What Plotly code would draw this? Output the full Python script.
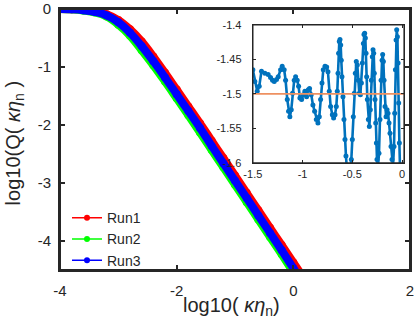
import plotly.graph_objects as go

# ---------------- data ----------------
log_k = [-4.0, -3.8, -3.6, -3.4, -3.2, -3.0, -2.8, -2.6, -2.4, -2.2, -2.0,
         -1.8, -1.6, -1.4, -1.2, -1.0, -0.8, -0.6, -0.4, -0.2, 0.0, 0.2]
run1 = [0, -0.004, -0.015, -0.04, -0.09, -0.19, -0.35, -0.56, -0.82, -1.10, -1.39,
        -1.68, -1.97, -2.27, -2.57, -2.87, -3.17, -3.47, -3.77, -4.07, -4.37, -4.67]
run2 = [0, -0.006, -0.025, -0.06, -0.13, -0.27, -0.46, -0.71, -0.97, -1.25, -1.54,
        -1.83, -2.13, -2.43, -2.73, -3.03, -3.33, -3.63, -3.93, -4.23, -4.54, -4.84]
run3 = [0, -0.005, -0.02, -0.05, -0.11, -0.23, -0.41, -0.64, -0.90, -1.18, -1.47,
        -1.76, -2.05, -2.36, -2.66, -2.96, -3.26, -3.56, -3.86, -4.16, -4.47, -4.77]
run_names = ["Run1", "Run2", "Run3"]

# inset: local slope
slope_x = [-1.500, -1.480, -1.456, -1.436, -1.413, -1.379, -1.346, -1.322, -1.302, -1.285,
           -1.262, -1.245, -1.221, -1.205, -1.185, -1.171, -1.154, -1.141, -1.128, -1.114,
           -1.101, -1.084, -1.070, -1.054, -1.040, -1.027, -1.010, -0.993, -0.977, -0.960,
           -0.943, -0.930, -0.913, -0.896, -0.879, -0.862, -0.846, -0.832, -0.819, -0.805,
           -0.792, -0.775, -0.758, -0.745, -0.732, -0.718, -0.701, -0.688, -0.674, -0.661,
           -0.651, -0.644, -0.638, -0.631, -0.624, -0.617, -0.611, -0.604, -0.594, -0.584,
           -0.574, -0.564, -0.554, -0.537, -0.520, -0.510, -0.500, -0.490, -0.480, -0.470,
           -0.460, -0.450, -0.440, -0.430, -0.419, -0.409, -0.399, -0.389, -0.383, -0.376,
           -0.369, -0.362, -0.356, -0.349, -0.339, -0.329, -0.319, -0.309, -0.299, -0.292,
           -0.285, -0.279, -0.272, -0.265, -0.258, -0.252, -0.242, -0.232, -0.222, -0.211,
           -0.201, -0.195, -0.188, -0.181, -0.171, -0.161, -0.151, -0.141, -0.131, -0.121,
           -0.111, -0.101, -0.091, -0.081, -0.074, -0.067, -0.060, -0.054, -0.047, -0.040,
           -0.034, -0.027, -0.020]
slope_y = [-1.465, -1.482, -1.496, -1.489, -1.467, -1.470, -1.472, -1.476, -1.480, -1.482,
           -1.479, -1.475, -1.465, -1.460, -1.465, -1.480, -1.508, -1.525, -1.533, -1.523,
           -1.499, -1.480, -1.475, -1.480, -1.489, -1.506, -1.508, -1.501, -1.496, -1.504,
           -1.494, -1.492, -1.501, -1.516, -1.525, -1.537, -1.542, -1.533, -1.508, -1.484,
           -1.465, -1.460, -1.461, -1.468, -1.496, -1.518, -1.530, -1.535, -1.530, -1.518,
           -1.496, -1.470, -1.441, -1.424, -1.421, -1.429, -1.451, -1.475, -1.504, -1.537,
           -1.566, -1.590, -1.610, -1.619, -1.610, -1.595, -1.566, -1.533, -1.499, -1.470,
           -1.453, -1.458, -1.480, -1.499, -1.501, -1.484, -1.455, -1.427, -1.414, -1.412,
           -1.419, -1.441, -1.475, -1.508, -1.537, -1.547, -1.523, -1.480, -1.446, -1.436,
           -1.441, -1.470, -1.508, -1.542, -1.571, -1.595, -1.605, -1.586, -1.537, -1.480,
           -1.451, -1.443, -1.453, -1.480, -1.518, -1.533, -1.523, -1.528, -1.542, -1.557,
           -1.576, -1.595, -1.605, -1.576, -1.528, -1.465, -1.422, -1.407, -1.417, -1.455,
           -1.513, -1.571, -1.610]
ref_slope = -1.5
ref_x = [-1.5, 0.02]

main_xticks = [-4, -2, 0, 2]
main_xticktext = ["-4", "-2", "0", "2"]
main_yticks = [0, -1, -2, -3, -4]
main_yticktext = ["0", "-1", "-2", "-3", "-4"]
ins_xticks = [-1.5, -1, -0.5, 0]
ins_xticktext = ["-1.5", "-1", "-0.5", "0"]
ins_yticks = [-1.4, -1.45, -1.5, -1.55, -1.6]
ins_yticktext = ["-1.4", "-1.45", "-1.5", "-1.55", "-1.6"]

# ---------------- figure ----------------
FONT = "Liberation Sans, Arial, sans-serif"
AX = "#262626"
colors = ["#FF0000", "#00FF00", "#0000FF"]

fig = go.Figure()
for name, ys, c in zip(run_names, [run1, run2, run3], colors):
    fig.add_trace(go.Scatter(x=log_k, y=ys, mode="lines+markers", name=name,
                             line=dict(color=c, width=8, shape="spline"),
                             marker=dict(color=c, size=8), showlegend=False,
                             xaxis="x", yaxis="y"))
for name, c in zip(run_names, colors):
    fig.add_trace(go.Scatter(x=[None], y=[None], mode="lines+markers", name=name,
                             line=dict(color=c, width=1.5),
                             marker=dict(color=c, size=6), showlegend=True,
                             xaxis="x", yaxis="y"))

fig.add_trace(go.Scatter(x=slope_x, y=slope_y, mode="lines+markers",
                         line=dict(color="#0072BD", width=2.6),
                         marker=dict(color="#0072BD", size=5),
                         showlegend=False, xaxis="x2", yaxis="y2"))
fig.add_trace(go.Scatter(x=ref_x, y=[ref_slope, ref_slope], mode="lines",
                         line=dict(color="#EE9060", width=1.8),
                         showlegend=False, xaxis="x2", yaxis="y2"))

axis_common = dict(showgrid=False, zeroline=False, showline=True, mirror="ticks",
                   linecolor=AX, ticks="inside", tickcolor=AX, automargin=False,
                   layer="above traces")

fig.update_layout(
    template="none",
    width=415, height=332,
    margin=dict(l=60, r=5, t=9, b=62, pad=0),
    paper_bgcolor="white", plot_bgcolor="white",
    font=dict(family=FONT, color=AX),
    xaxis=dict(**axis_common, domain=[0, 1], range=[-4, 2], tickvals=main_xticks,
               ticktext=main_xticktext, linewidth=2, tickwidth=2, ticklen=5,
               tickfont=dict(size=15, color=AX), ticklabelstandoff=6),
    yaxis=dict(**axis_common, domain=[0, 1], range=[-4.5, 0], tickvals=main_yticks,
               ticktext=main_yticktext, linewidth=2, tickwidth=2, ticklen=5,
               tickfont=dict(size=15, color=AX), ticklabelstandoff=4),
    xaxis2=dict(**axis_common, domain=[0.551, 0.983], range=[-1.5, 0.02],
                anchor="y2", tickvals=ins_xticks, ticktext=ins_xticktext,
                linewidth=1.3, tickwidth=1, ticklen=3,
                tickfont=dict(size=11, color=AX), ticklabelstandoff=1),
    yaxis2=dict(**axis_common, domain=[0.41, 0.939], range=[-1.6, -1.4],
                anchor="x2", tickvals=ins_yticks, ticktext=ins_yticktext,
                linewidth=1.3, tickwidth=1, ticklen=3,
                tickfont=dict(size=11, color=AX), ticklabelstandoff=8),
    legend=dict(x=0.02, y=0.26, xanchor="left", yanchor="top",
                bgcolor="rgba(0,0,0,0)", font=dict(size=14, color=AX),
                tracegroupgap=0),
    shapes=[
        dict(type="rect", xref="x domain", yref="y domain", x0=0, x1=1, y0=0, y1=1,
             line=dict(color=AX, width=2), fillcolor="rgba(0,0,0,0)", layer="above"),
        dict(type="rect", xref="x2 domain", yref="y2 domain", x0=0, x1=1, y0=0, y1=1,
             line=dict(color=AX, width=1.3), fillcolor="rgba(0,0,0,0)", layer="above"),
    ],
    annotations=[
        dict(text="log10( <i>κη</i><sub>n</sub>)", xref="paper", yref="paper",
             x=0.49, y=-0.085, xanchor="center", yanchor="top", showarrow=False,
             font=dict(size=20, color=AX)),
        dict(text="log10(Q( <i>κη</i><sub>n</sub> )", xref="paper", yref="paper",
             x=-0.13, y=0.487, xanchor="center", yanchor="middle", showarrow=False,
             textangle=-90, font=dict(size=20, color=AX)),
    ],
)

fig.write_html("out.html",
               config={"displayModeBar": False},
               post_script="document.body.style.margin='0';"
                           "document.body.style.overflow='hidden';")
